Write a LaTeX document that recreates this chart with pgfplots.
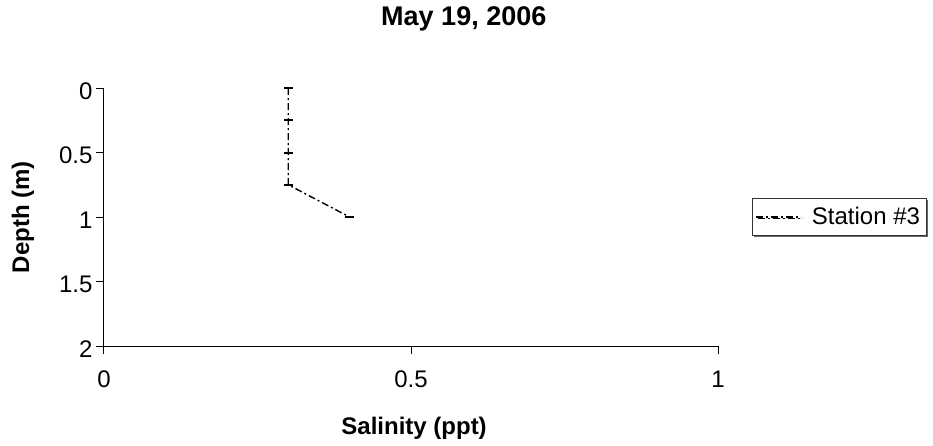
\documentclass[border=0pt]{standalone}
\usepackage{pgfplots}
\pgfplotsset{compat=1.18}
\usetikzlibrary{shadows}
\usepackage{fontspec}
\setmainfont{Liberation Sans}
\begin{document}
\begin{tikzpicture}[x=1pt,y=1pt]
\path[use as bounding box] (-104,-99) rectangle (829,346);
\begin{axis}[
  at={(0,0)}, anchor=south west,
  scale only axis, width=614pt, height=258pt,
  xmin=0, xmax=1, ymin=0, ymax=2, y dir=reverse,
  axis x line*=bottom, axis y line*=left,
  axis line style={black, line width=1pt, -},
  tick align=outside, major tick length=8pt,
  tick style={black, line width=1pt},
  xtick={0,0.5,1}, ytick={0,0.5,1,1.5,2},
  /pgf/number format/assume math mode=true,
  tick label style={font=\fontsize{24}{28}\selectfont},
  yticklabel style={yshift=-3pt},
  xticklabel style={yshift=-13pt},
  title={May 19, 2006},
  title style={font=\fontsize{27}{32}\selectfont\bfseries, at={(axis description cs:0.586,1)}, anchor=center, yshift=63pt},
  xlabel={Salinity (ppt)},
  xlabel style={font=\fontsize{24}{28}\selectfont\bfseries, at={(axis description cs:0.505,0)}, anchor=center, yshift=-82pt},
  ylabel={Depth (m)},
  ylabel style={font=\fontsize{24}{28}\selectfont\bfseries, at={(axis description cs:0,0.5)}, anchor=center, yshift=81pt},
  legend style={at={(axis description cs:1.0554,0.5)}, anchor=west, draw=black!80, line width=1pt, fill=white,
    drop shadow={shadow xshift=1.5pt, shadow yshift=-1.5pt, fill=black!60, opacity=1},
    column sep=7pt,
    font=\fontsize{24}{28}\selectfont, inner xsep=3pt, inner ysep=6pt, nodes={inner xsep=3pt, inner ysep=3pt}},
  legend image code/.code={\draw[#1, mark=none] (0pt,0pt) -- (45pt,0pt);},
  clip=false,
]
\addplot[black, line width=1.4pt, dash pattern=on 7pt off 3pt on 2pt off 3pt,
  mark=-, mark size=4.5pt, mark options={solid, line width=2pt}]
  coordinates {(0.3,0) (0.3,0.25) (0.3,0.5) (0.3,0.75) (0.4,1)};
\addlegendentry{Station \#3}
\end{axis}
\end{tikzpicture}
\end{document}
